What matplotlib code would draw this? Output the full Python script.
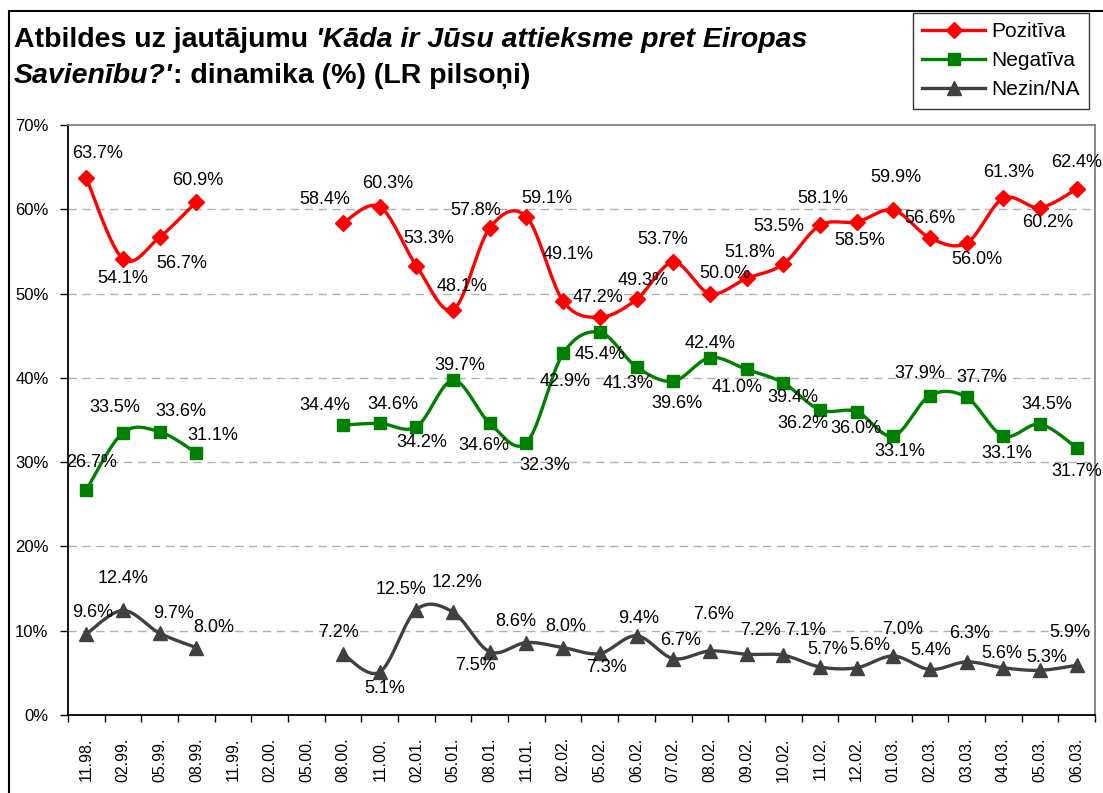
import numpy as np
import matplotlib
matplotlib.use('Agg')
import matplotlib.pyplot as plt
from matplotlib.lines import Line2D
from matplotlib.patches import Rectangle

plt.rcParams['font.family'] = ['Liberation Sans', 'DejaVu Sans']

# data (% of respondents), gaps where no survey was run
periods = ['11.98.', '02.99.', '05.99.', '08.99.', '11.99.', '02.00.', '05.00.',
           '08.00.', '11.00.', '02.01.', '05.01.', '08.01.', '11.01.', '02.02.',
           '05.02.', '06.02.', '07.02.', '08.02.', '09.02.', '10.02.', '11.02.',
           '12.02.', '01.03.', '02.03.', '03.03.', '04.03.', '05.03.', '06.03.']
nan = np.nan
pozitiva = [63.7, 54.1, 56.7, 60.9, nan, nan, nan, 58.4, 60.3, 53.3, 48.1, 57.8,
            59.1, 49.1, 47.2, 49.3, 53.7, 50.0, 51.8, 53.5, 58.1, 58.5, 59.9,
            56.6, 56.0, 61.3, 60.2, 62.4]
negativa = [26.7, 33.5, 33.6, 31.1, nan, nan, nan, 34.4, 34.6, 34.2, 39.7, 34.6,
            32.3, 42.9, 45.4, 41.3, 39.6, 42.4, 41.0, 39.4, 36.2, 36.0, 33.1,
            37.9, 37.7, 33.1, 34.5, 31.7]
nezin = [9.6, 12.4, 9.7, 8.0, nan, nan, nan, 7.2, 5.1, 12.5, 12.2, 7.5, 8.6,
         8.0, 7.3, 9.4, 6.7, 7.6, 7.2, 7.1, 5.7, 5.6, 7.0, 5.4, 6.3, 5.6, 5.3, 5.9]

# label offsets in pixels (dx, dy up), None for missing points
off_poz = [(11, 25), (0, -19), (22, -26), (1, 21), None, None, None, (-18, 23),
           (8, 23), (12, 27), (9, 23), (-14, 17), (20, 18), (5, 47), (-2, 20),
           (7, 19), (-11, 23), (15, 20), (3, 26), (-4, 38), (3, 27), (3, -19),
           (3, 33), (0, 19), (10, -17), (5, 26), (8, -15), (0, 27)]
off_neg = [(5, 27), (-8, 25), (21, 20), (16, 17), None, None, None, (-18, 20),
           (13, 19), (5, -16), (7, 15), (-6, -22), (18, -23), (2, -28), (0, -22),
           (-8, -17), (4, -22), (0, 14), (-9, -18), (10, -15), (-17, -14),
           (-1, -17), (7, -15), (-10, 22), (15, 20), (3, -17), (7, 20), (0, -24)]
off_nez = [(6, 22), (0, 32), (14, 20), (17, 20), None, None, None, (-5, 22),
           (5, -16), (-15, 20), (4, 30), (-14, -14), (-11, 21), (3, 21), (7, -14),
           (2, 17), (7, 18), (4, 36), (14, 24), (22, 25), (8, 17), (13, 22),
           (9, 27), (1, 19), (3, 28), (-1, 14), (7, 13), (-7, 33)]


def smooth(xs, ys, n=20):
    # Excel-like smoothed line: Bezier through points, drawn per contiguous run
    out_x, out_y = [], []
    ys = np.asarray(ys, dtype=float)
    xs = np.asarray(xs, dtype=float)
    ok = ~np.isnan(ys)
    runs, cur = [], []
    for i in range(len(ys)):
        if ok[i]:
            cur.append(i)
        elif cur:
            runs.append(cur)
            cur = []
    if cur:
        runs.append(cur)
    t = np.linspace(0, 1, n)
    for r in runs:
        px, py = xs[r], ys[r]
        m = len(r)
        for k in range(m - 1):
            p0 = (px[max(k - 1, 0)], py[max(k - 1, 0)])
            p1 = (px[k], py[k])
            p2 = (px[k + 1], py[k + 1])
            p3 = (px[min(k + 2, m - 1)], py[min(k + 2, m - 1)])
            c1 = (p1[0] + (p2[0] - p0[0]) / 6, p1[1] + (p2[1] - p0[1]) / 6)
            c2 = (p2[0] - (p3[0] - p1[0]) / 6, p2[1] - (p3[1] - p1[1]) / 6)
            bx = (1-t)**3*p1[0] + 3*(1-t)**2*t*c1[0] + 3*(1-t)*t**2*c2[0] + t**3*p2[0]
            by = (1-t)**3*p1[1] + 3*(1-t)**2*t*c1[1] + 3*(1-t)*t**2*c2[1] + t**3*p2[1]
            out_x.extend(bx)
            out_y.extend(by)
        out_x.append(nan)
        out_y.append(nan)
    return out_x, out_y


fig = plt.figure(figsize=(11.03, 7.93), dpi=100)
ax = fig.add_axes([68 / 1103, 1 - 715 / 793, (1095 - 68) / 1103, (715 - 125) / 793])

x = np.arange(len(periods))
series = [
    ('Pozitīva', pozitiva, off_poz, '#ff0000', 'D', 8),
    ('Negatīva', negativa, off_neg, '#008000', 's', 8.5),
    ('Nezin/NA', nezin, off_nez, '#404040', '^', 9.5),
]
handles = []
for name, vals, offs, col, mk, ms in series:
    sx, sy = smooth(x, vals)
    ax.plot(sx, sy, color=col, lw=2.4, solid_capstyle='round', zorder=3)
    ax.plot(x, vals, ls='none', marker=mk, color=col, ms=ms, zorder=4)
    for xi, v, o in zip(x, vals, offs):
        if np.isnan(v):
            continue
        ax.annotate(f'{v:.1f}%', (xi, v), xytext=o, textcoords='offset pixels',
                    ha='center', va='center', fontsize=13, color='black', zorder=5)
    handles.append(Line2D([], [], color=col, lw=2.4, marker=mk, ms=ms))

ax.set_xlim(-0.5, len(periods) - 0.5)
ax.set_ylim(0, 70)
ax.set_yticks(np.arange(0, 71, 10))
ax.set_yticklabels([f'{v}%' for v in range(0, 71, 10)], fontsize=12)
ax.tick_params(axis='y', direction='out', length=6, width=1, pad=8)
ax.set_xticks(np.arange(len(periods) + 1) - 0.5)
ax.set_xticklabels([])
ax.tick_params(axis='x', which='major', direction='out', length=5, width=1)
ax.set_xticks(x, periods, minor=True)
ax.tick_params(axis='x', which='minor', length=0, pad=16, labelsize=11.5,
               labelrotation=90)
for lab in ax.get_xticklabels(minor=True):
    lab.set_va('top')
for y in range(10, 70, 10):
    ax.axhline(y, color='#b0b0b0', lw=1, ls=(0, (6, 4)), zorder=1)
ax.spines['left'].set_color('black')
ax.spines['bottom'].set_color('black')
ax.spines['top'].set_color('#808080')
ax.spines['right'].set_color('#808080')
for s in ax.spines.values():
    s.set_linewidth(1.3)

leg = ax.legend(handles, [s[0] for s in series], loc='upper left',
                bbox_to_anchor=(913 / 1103, 1 - 13 / 793),
                bbox_transform=fig.transFigure, borderaxespad=0, fontsize=15,
                frameon=True, fancybox=False, edgecolor='black', handlelength=3.0,
                borderpad=0.45, labelspacing=0.48, handletextpad=0.3)
leg.get_frame().set_linewidth(1.0)

# outer chart frame
fig.add_artist(Rectangle((9 / 1103, -0.05), 1.1, 1 - 11 / 793 + 0.05,
                         transform=fig.transFigure, fill=False, ec='black', lw=1.5))

# title with mixed bold / bold-italic pieces
renderer = fig.canvas.get_renderer()
lines = [
    [('Atbildes uz jautājumu ', 'normal'),
     ("'Kāda ir Jūsu attieksme pret Eiropas", 'italic')],
    [("Savienību?'", 'italic'), (': dinamika (%) (LR pilsoņi)', 'normal')],
]
for row, pieces in enumerate(lines):
    xp = 14
    yp = 793 - (47 + 36 * row)
    for txt, style in pieces:
        t = fig.text(xp / 1103, yp / 793, txt, fontsize=20.5, fontweight='bold',
                     fontstyle=style, ha='left', va='baseline')
        bb = t.get_window_extent(renderer)
        xp = bb.x1

fig.savefig('out.png', dpi=100)
